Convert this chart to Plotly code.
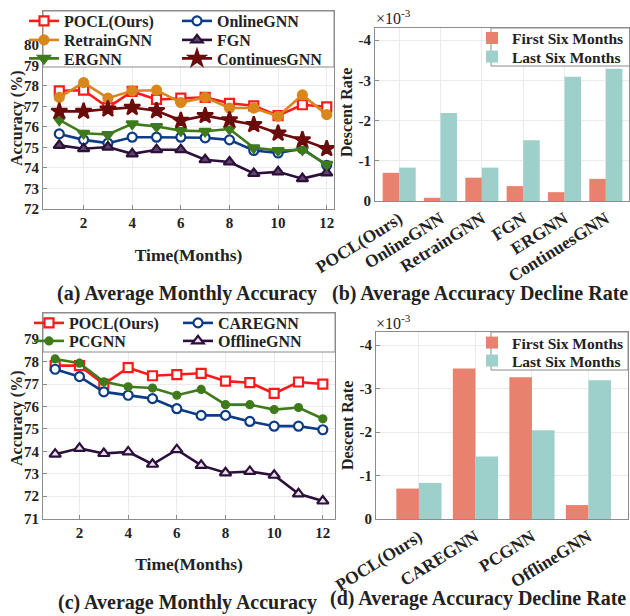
import plotly.graph_objects as go

W, H = 630, 616

# ---------------- data ----------------
months = list(range(1, 13))

# panel (a)
pocl_a = [77.76, 77.79, 76.95, 77.73, 77.34, 77.40, 77.44, 77.15, 77.03, 76.55, 77.08, 76.98]
retrain_a = [77.44, 78.16, 77.40, 77.76, 77.79, 77.19, 77.44, 76.92, 76.92, 76.52, 77.56, 76.60]
online_a = [75.66, 75.37, 75.21, 75.50, 75.50, 75.50, 75.47, 75.37, 74.85, 74.73, 74.94, 74.13]
fgn_a = [75.10, 74.94, 75.02, 74.69, 74.89, 74.89, 74.40, 74.29, 73.73, 73.81, 73.48, 73.76]
ergnn_a = [76.34, 75.69, 75.63, 76.15, 76.02, 75.82, 75.79, 75.90, 74.98, 74.85, 74.89, 74.18]
contin_a = [76.76, 76.76, 76.87, 76.95, 76.79, 76.31, 76.55, 76.34, 76.11, 75.69, 75.37, 74.94]

# panel (c)
pocl_c = [77.82, 77.82, 77.00, 77.73, 77.37, 77.42, 77.48, 77.13, 77.06, 76.58, 77.09, 77.00]
pcgnn_c = [78.12, 77.93, 77.10, 76.88, 76.82, 76.50, 76.76, 76.08, 76.08, 75.86, 75.95, 75.45]
care_c = [77.66, 77.33, 76.65, 76.50, 76.35, 75.90, 75.60, 75.60, 75.33, 75.12, 75.12, 74.96]
offline_c = [73.87, 74.13, 73.90, 73.97, 73.42, 74.07, 73.37, 73.04, 73.10, 72.93, 72.10, 71.78]

# panel (b) (x 1e-3)
models_b = ["POCL(Ours)", "OnlineGNN", "RetrainGNN", "FGN", "ERGNN", "ContinuesGNN"]
first_b = [-0.70, -0.08, -0.58, -0.37, -0.22, -0.55]
last_b = [-0.83, -2.19, -0.83, -1.51, -3.09, -3.29]

# panel (d) (x 1e-3)
models_d = ["POCL(Ours)", "CAREGNN", "PCGNN", "OfflineGNN"]
first_d = [-0.70, -3.46, -3.26, -0.32]
last_d = [-0.83, -1.44, -2.04, -3.19]

rate_ticks = [0, -1, -2, -3, -4]
rate_ticktext = ["0", "-1", "-2", "-3", "-4"]

# ---------------- styling ----------------
SERIF = "Liberation Serif"
AX = "#8c8c8c"
GRID = "#ebebeb"
TXT = "#222222"


def px(x):
    return x / W


def py(y):
    return 1 - y / H


legfont = dict(family=SERIF, size=16, color=TXT, weight="bold")
legends = {}
_legn = [1]


def leg(x, y, size=16):
    _legn[0] += 1
    key = "legend%d" % _legn[0]
    f = dict(legfont)
    f["size"] = size
    legends[key] = dict(x=px(x), y=py(y), xanchor="left", yanchor="middle", orientation="v",
                        bgcolor="rgba(0,0,0,0)", borderwidth=0, font=f,
                        tracegroupgap=0, itemwidth=30, itemclick=False)
    return key


fig = go.Figure()


def line(x, y, name, color, symbol, size, fill, xa, ya, legkey):
    fig.add_trace(go.Scatter(
        x=x, y=y, name=name, mode="lines+markers",
        line=dict(color=color, width=2.6),
        marker=dict(symbol=symbol, size=size, color=fill,
                    line=dict(color=color, width=2.2)),
        xaxis=xa, yaxis=ya, legend=legkey))


RED = "#ff1a1a"
ORANGE = "#d9861c"
BLUE = "#0d3b86"
PURPLE = "#2d0f3c"
GREEN = "#3f7a1b"
DRED = "#6b0b0b"

LX1a, LX2a = 24, 177
LX1c, LX2c = 29, 178

# panel (a)
line(months, pocl_a, "POCL(Ours)", RED, "square", 9, "white", "x", "y", leg(LX1a, 21))
line(months, online_a, "OnlineGNN", BLUE, "circle", 9, "white", "x", "y", leg(LX2a, 21))
line(months, retrain_a, "RetrainGNN", ORANGE, "circle", 9, ORANGE, "x", "y", leg(LX1a, 40))
line(months, fgn_a, "FGN", PURPLE, "triangle-up", 10, "#5a4866", "x", "y", leg(LX2a, 40))
line(months, ergnn_a, "ERGNN", GREEN, "triangle-down", 10, GREEN, "x", "y", leg(LX1a, 58.5))
line(months, contin_a, "ContinuesGNN", DRED, "star", 12, DRED, "x", "y", leg(LX2a, 58.5))

# panel (c)
line(months, pocl_c, "POCL(Ours)", RED, "square", 9, "white", "x3", "y3", leg(LX1c, 323))
line(months, care_c, "CAREGNN", BLUE, "circle", 9, "white", "x3", "y3", leg(LX2c, 323))
line(months, pcgnn_c, "PCGNN", GREEN, "circle", 7, GREEN, "x3", "y3", leg(LX1c, 341))
line(months, offline_c, "OfflineGNN", PURPLE, "triangle-up", 10, "#e8e0ea", "x3", "y3", leg(LX2c, 341))

SALMON = "#e8826f"
TEAL = "#9dd0ca"


def bars(x, y, name, color, xa, ya, legkey):
    fig.add_trace(go.Bar(x=x, y=y, name=name, marker=dict(color=color, line=dict(width=0)),
                         xaxis=xa, yaxis=ya, legend=legkey))


bars(models_b, first_b, "First Six Months", SALMON, "x2", "y2", leg(472, 38.5, 15.5))
bars(models_b, last_b, "Last Six Months", TEAL, "x2", "y2", leg(472, 57, 15.5))
bars(models_d, first_d, "First Six Months", SALMON, "x4", "y4", leg(472, 343, 15.5))
bars(models_d, last_d, "Last Six Months", TEAL, "x4", "y4", leg(472, 361, 15.5))

tickfont = dict(family=SERIF, size=15, color=TXT, weight="bold")
titlefont = dict(family=SERIF, size=17.5, color=TXT, weight="bold")
cattickfont = dict(family=SERIF, size=17.5, color=TXT, weight="bold")


def axis(**kw):
    d = dict(showline=True, linecolor=AX, linewidth=1, mirror=True,
             showgrid=True, gridcolor=GRID, gridwidth=1, zeroline=False,
             ticks="inside", tickcolor=AX, ticklen=4, tickfont=tickfont,
             automargin=False)
    d.update(kw)
    return d


layout = dict(
    width=W, height=H, margin=dict(l=0, r=0, t=0, b=0, autoexpand=False),
    paper_bgcolor="white", plot_bgcolor="white",
    font=dict(family=SERIF, color=TXT),
    barmode="group", bargap=0.2, bargroupgap=0.0,
    xaxis=axis(domain=[px(43), px(334)], anchor="y", range=[0.33, 12.3],
               tickvals=[2, 4, 6, 8, 10, 12],
               title=dict(text="Time(Months)", font=titlefont, standoff=18)),
    yaxis=axis(domain=[py(209), py(11)], anchor="x", range=[72, 81.65],
               tickvals=list(range(72, 81))),
    xaxis2=axis(domain=[px(375), px(629)], anchor="y2", range=[-0.585, 5.56],
                tickangle=-32, ticks="", tickfont=cattickfont),
    yaxis2=axis(domain=[py(201), py(28)], anchor="x2", range=[0, -4.3],
                tickvals=rate_ticks, ticktext=rate_ticktext),
    xaxis3=axis(domain=[px(43), px(335)], anchor="y3", range=[0.5, 12.5],
                tickvals=[2, 4, 6, 8, 10, 12],
                title=dict(text="Time(Months)", font=titlefont, standoff=18)),
    yaxis3=axis(domain=[py(518.5), py(313)], anchor="x3", range=[71, 80.17],
                tickvals=list(range(71, 80))),
    xaxis4=axis(domain=[px(376), px(628)], anchor="y4", range=[-0.76, 3.70],
                tickangle=-32, ticks="", tickfont=cattickfont),
    yaxis4=axis(domain=[py(519), py(332)], anchor="x4", range=[0, -4.3],
                tickvals=rate_ticks, ticktext=rate_ticktext),
)
layout.update(legends)

rect = lambda x0, y0, x1, y1: dict(type="rect", xref="paper", yref="paper",
                                   x0=px(x0), x1=px(x1), y0=py(y1), y1=py(y0),
                                   fillcolor="white", line=dict(color=AX, width=1), layer="above")
layout["shapes"] = [rect(43, 11, 334, 67), rect(43, 313, 335, 352),
                    rect(491, 28, 629.5, 66), rect(491, 332, 628, 370)]


def ann(text, x, y, size, bold=True, xanchor="center", angle=0):
    return dict(text=text, x=px(x), y=py(y), xref="paper", yref="paper",
                xanchor=xanchor, yanchor="middle", showarrow=False, textangle=angle,
                font=dict(family=SERIF, size=size, color=TXT, weight="bold" if bold else "normal"))


layout["annotations"] = [
    ann("Accuracy (%)", 17, 118, 16, angle=-90),
    ann("Accuracy (%)", 17, 418, 16, angle=-90),
    ann("Descent Rate", 347, 113, 16, angle=-90),
    ann("Descent Rate", 347, 426, 16, angle=-90),
    ann("×10<sup>-3</sup>", 374, 17, 16, bold=False, xanchor="left"),
    ann("×10<sup>-3</sup>", 374, 322, 16, bold=False, xanchor="left"),
    ann("(a) Average Monthly Accuracy", 187, 293, 20),
    ann("(b) Average Accuracy Decline Rate", 480, 293, 20),
    ann("(c) Average Monthly Accuracy", 187, 602, 20),
    ann("(d) Average Accuracy Decline Rate", 478, 598, 20),
]

fig.update_layout(**layout)
fig.write_html("out.html", config={"displayModeBar": False},
               post_script="document.body.style.margin='0';document.body.style.overflow='hidden';")
